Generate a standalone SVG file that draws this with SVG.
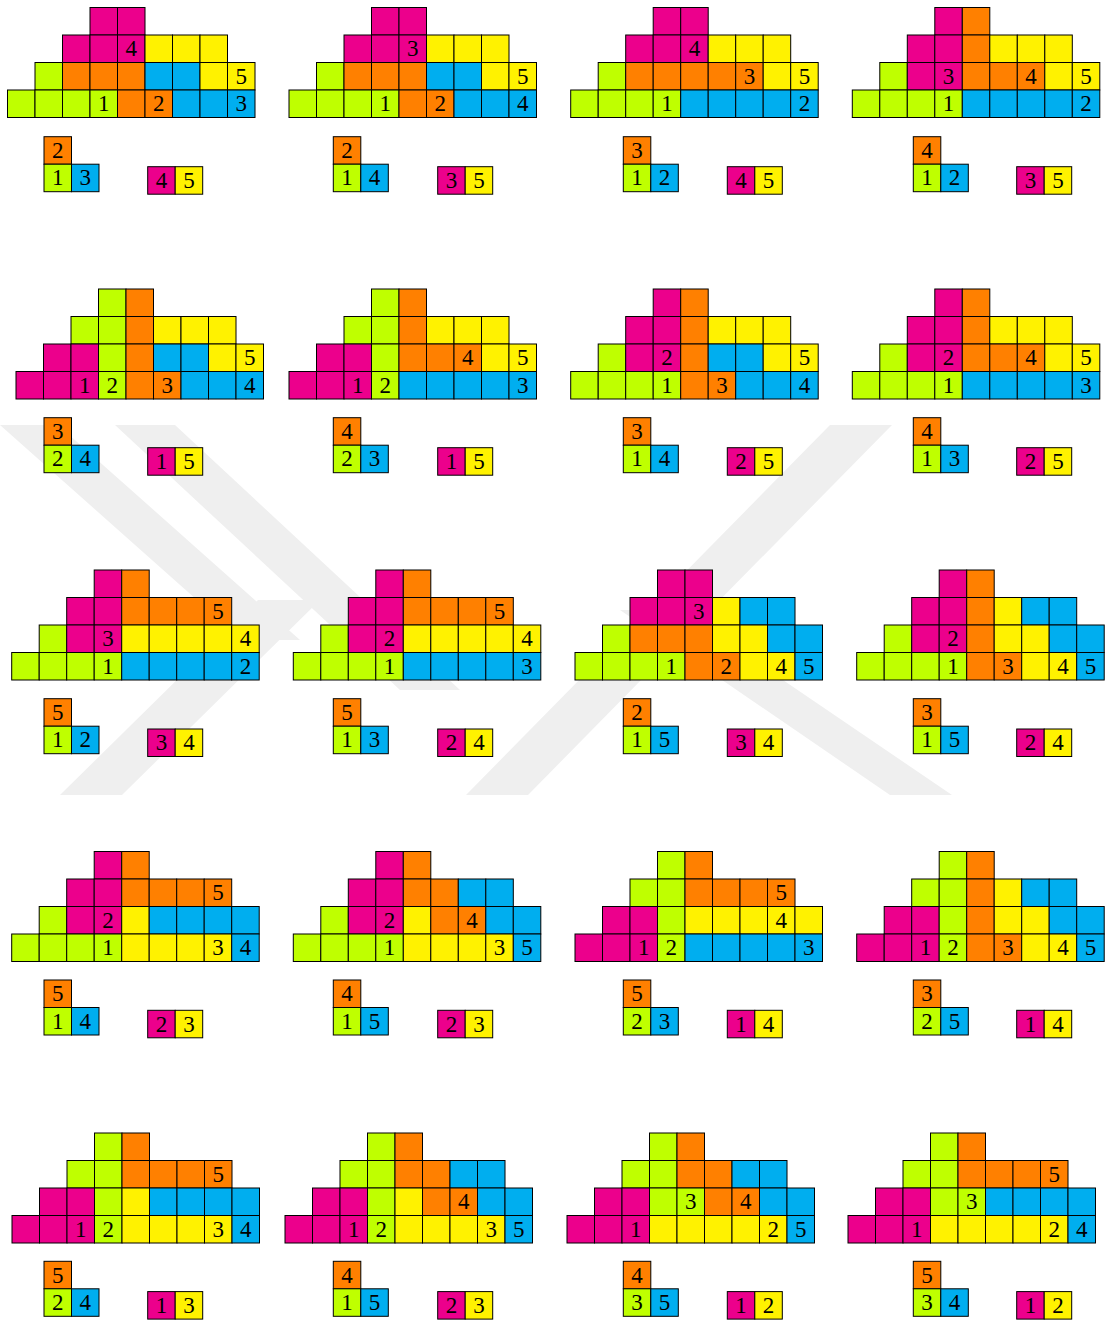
<svg xmlns="http://www.w3.org/2000/svg" width="1106" height="1321" viewBox="0 0 1106 1321">
<style>
rect.c{width:27.5px;height:27.5px;stroke:#000;stroke-width:1}
.m{fill:#EC008C}.y{fill:#FFF200}.g{fill:#BFFF00}.o{fill:#FF8000}.b{fill:#00AEEF}
.wm{fill:#efefef}
text{font-family:"Liberation Serif","DejaVu Serif",serif;font-size:23px;text-anchor:middle;fill:#000}
</style>
<rect width="1106" height="1321" fill="#fff"/>
<g id="watermark">
<polygon class="wm" points="0,425 58,425 300,640 242,640 0,425"/>
<polygon class="wm" points="115,425 175,425 460,690 400,690"/>
<polygon class="wm" points="830,425 892,425 528,795 466,795"/>
<polygon class="wm" points="60,795 122,795 320,600 258,600"/>
<polygon class="wm" points="620,610 680,610 952,795 890,795"/>
</g>
<g id="connectors"/>

<g id="p1" transform="translate(7.5 7.5)">
<rect class="c m" x="82.5" y="0"/><rect class="c m" x="110" y="0"/>
<rect class="c m" x="55" y="27.5"/><rect class="c m" x="82.5" y="27.5"/><rect class="c m" x="110" y="27.5"/><rect class="c y" x="137.5" y="27.5"/><rect class="c y" x="165" y="27.5"/><rect class="c y" x="192.5" y="27.5"/>
<rect class="c g" x="27.5" y="55"/><rect class="c o" x="55" y="55"/><rect class="c o" x="82.5" y="55"/><rect class="c o" x="110" y="55"/><rect class="c b" x="137.5" y="55"/><rect class="c b" x="165" y="55"/><rect class="c y" x="192.5" y="55"/><rect class="c y" x="220" y="55"/>
<rect class="c g" x="0" y="82.5"/><rect class="c g" x="27.5" y="82.5"/><rect class="c g" x="55" y="82.5"/><rect class="c g" x="82.5" y="82.5"/><rect class="c o" x="110" y="82.5"/><rect class="c o" x="137.5" y="82.5"/><rect class="c b" x="165" y="82.5"/><rect class="c b" x="192.5" y="82.5"/><rect class="c b" x="220" y="82.5"/>
<text x="123.75" y="48.75">4</text><text x="233.75" y="76.25">5</text><text x="96.25" y="103.75">1</text><text x="151.25" y="103.75">2</text><text x="233.75" y="103.75">3</text>
</g>
<g id="p1-l" transform="translate(44 136.7)"><rect class="c o" x="0" y="0"/><rect class="c g" x="0" y="27.5"/><rect class="c b" x="27.5" y="27.5"/><text x="13.75" y="21.25">2</text><text x="13.75" y="48.75">1</text><text x="41.25" y="48.75">3</text></g>
<g id="p1-p" transform="translate(147.7 166.7)"><rect class="c m" x="0" y="0"/><rect class="c y" x="27.5" y="0"/><text x="13.75" y="21.25">4</text><text x="41.25" y="21.25">5</text></g>

<g id="p2" transform="translate(289 7.5)">
<rect class="c m" x="82.5" y="0"/><rect class="c m" x="110" y="0"/>
<rect class="c m" x="55" y="27.5"/><rect class="c m" x="82.5" y="27.5"/><rect class="c m" x="110" y="27.5"/><rect class="c y" x="137.5" y="27.5"/><rect class="c y" x="165" y="27.5"/><rect class="c y" x="192.5" y="27.5"/>
<rect class="c g" x="27.5" y="55"/><rect class="c o" x="55" y="55"/><rect class="c o" x="82.5" y="55"/><rect class="c o" x="110" y="55"/><rect class="c b" x="137.5" y="55"/><rect class="c b" x="165" y="55"/><rect class="c y" x="192.5" y="55"/><rect class="c y" x="220" y="55"/>
<rect class="c g" x="0" y="82.5"/><rect class="c g" x="27.5" y="82.5"/><rect class="c g" x="55" y="82.5"/><rect class="c g" x="82.5" y="82.5"/><rect class="c o" x="110" y="82.5"/><rect class="c o" x="137.5" y="82.5"/><rect class="c b" x="165" y="82.5"/><rect class="c b" x="192.5" y="82.5"/><rect class="c b" x="220" y="82.5"/>
<text x="123.75" y="48.75">3</text><text x="233.75" y="76.25">5</text><text x="96.25" y="103.75">1</text><text x="151.25" y="103.75">2</text><text x="233.75" y="103.75">4</text>
</g>
<g id="p2-l" transform="translate(333.3 136.7)"><rect class="c o" x="0" y="0"/><rect class="c g" x="0" y="27.5"/><rect class="c b" x="27.5" y="27.5"/><text x="13.75" y="21.25">2</text><text x="13.75" y="48.75">1</text><text x="41.25" y="48.75">4</text></g>
<g id="p2-p" transform="translate(437.7 166.7)"><rect class="c m" x="0" y="0"/><rect class="c y" x="27.5" y="0"/><text x="13.75" y="21.25">3</text><text x="41.25" y="21.25">5</text></g>

<g id="p3" transform="translate(570.7 7.5)">
<rect class="c m" x="82.5" y="0"/><rect class="c m" x="110" y="0"/>
<rect class="c m" x="55" y="27.5"/><rect class="c m" x="82.5" y="27.5"/><rect class="c m" x="110" y="27.5"/><rect class="c y" x="137.5" y="27.5"/><rect class="c y" x="165" y="27.5"/><rect class="c y" x="192.5" y="27.5"/>
<rect class="c g" x="27.5" y="55"/><rect class="c o" x="55" y="55"/><rect class="c o" x="82.5" y="55"/><rect class="c o" x="110" y="55"/><rect class="c o" x="137.5" y="55"/><rect class="c o" x="165" y="55"/><rect class="c y" x="192.5" y="55"/><rect class="c y" x="220" y="55"/>
<rect class="c g" x="0" y="82.5"/><rect class="c g" x="27.5" y="82.5"/><rect class="c g" x="55" y="82.5"/><rect class="c g" x="82.5" y="82.5"/><rect class="c b" x="110" y="82.5"/><rect class="c b" x="137.5" y="82.5"/><rect class="c b" x="165" y="82.5"/><rect class="c b" x="192.5" y="82.5"/><rect class="c b" x="220" y="82.5"/>
<text x="123.75" y="48.75">4</text><text x="178.75" y="76.25">3</text><text x="233.75" y="76.25">5</text><text x="96.25" y="103.75">1</text><text x="233.75" y="103.75">2</text>
</g>
<g id="p3-l" transform="translate(623.3 136.7)"><rect class="c o" x="0" y="0"/><rect class="c g" x="0" y="27.5"/><rect class="c b" x="27.5" y="27.5"/><text x="13.75" y="21.25">3</text><text x="13.75" y="48.75">1</text><text x="41.25" y="48.75">2</text></g>
<g id="p3-p" transform="translate(727.3 166.7)"><rect class="c m" x="0" y="0"/><rect class="c y" x="27.5" y="0"/><text x="13.75" y="21.25">4</text><text x="41.25" y="21.25">5</text></g>

<g id="p4" transform="translate(852.3 7.5)">
<rect class="c m" x="82.5" y="0"/><rect class="c o" x="110" y="0"/>
<rect class="c m" x="55" y="27.5"/><rect class="c m" x="82.5" y="27.5"/><rect class="c o" x="110" y="27.5"/><rect class="c y" x="137.5" y="27.5"/><rect class="c y" x="165" y="27.5"/><rect class="c y" x="192.5" y="27.5"/>
<rect class="c g" x="27.5" y="55"/><rect class="c m" x="55" y="55"/><rect class="c m" x="82.5" y="55"/><rect class="c o" x="110" y="55"/><rect class="c o" x="137.5" y="55"/><rect class="c o" x="165" y="55"/><rect class="c y" x="192.5" y="55"/><rect class="c y" x="220" y="55"/>
<rect class="c g" x="0" y="82.5"/><rect class="c g" x="27.5" y="82.5"/><rect class="c g" x="55" y="82.5"/><rect class="c g" x="82.5" y="82.5"/><rect class="c b" x="110" y="82.5"/><rect class="c b" x="137.5" y="82.5"/><rect class="c b" x="165" y="82.5"/><rect class="c b" x="192.5" y="82.5"/><rect class="c b" x="220" y="82.5"/>
<text x="96.25" y="76.25">3</text><text x="178.75" y="76.25">4</text><text x="233.75" y="76.25">5</text><text x="96.25" y="103.75">1</text><text x="233.75" y="103.75">2</text>
</g>
<g id="p4-l" transform="translate(913.3 136.7)"><rect class="c o" x="0" y="0"/><rect class="c g" x="0" y="27.5"/><rect class="c b" x="27.5" y="27.5"/><text x="13.75" y="21.25">4</text><text x="13.75" y="48.75">1</text><text x="41.25" y="48.75">2</text></g>
<g id="p4-p" transform="translate(1016.7 166.7)"><rect class="c m" x="0" y="0"/><rect class="c y" x="27.5" y="0"/><text x="13.75" y="21.25">3</text><text x="41.25" y="21.25">5</text></g>

<g id="p5" transform="translate(16 289)">
<rect class="c g" x="82.5" y="0"/><rect class="c o" x="110" y="0"/>
<rect class="c g" x="55" y="27.5"/><rect class="c g" x="82.5" y="27.5"/><rect class="c o" x="110" y="27.5"/><rect class="c y" x="137.5" y="27.5"/><rect class="c y" x="165" y="27.5"/><rect class="c y" x="192.5" y="27.5"/>
<rect class="c m" x="27.5" y="55"/><rect class="c m" x="55" y="55"/><rect class="c g" x="82.5" y="55"/><rect class="c o" x="110" y="55"/><rect class="c b" x="137.5" y="55"/><rect class="c b" x="165" y="55"/><rect class="c y" x="192.5" y="55"/><rect class="c y" x="220" y="55"/>
<rect class="c m" x="0" y="82.5"/><rect class="c m" x="27.5" y="82.5"/><rect class="c m" x="55" y="82.5"/><rect class="c g" x="82.5" y="82.5"/><rect class="c o" x="110" y="82.5"/><rect class="c o" x="137.5" y="82.5"/><rect class="c b" x="165" y="82.5"/><rect class="c b" x="192.5" y="82.5"/><rect class="c b" x="220" y="82.5"/>
<text x="233.75" y="76.25">5</text><text x="68.75" y="103.75">1</text><text x="96.25" y="103.75">2</text><text x="151.25" y="103.75">3</text><text x="233.75" y="103.75">4</text>
</g>
<g id="p5-l" transform="translate(44 417.7)"><rect class="c o" x="0" y="0"/><rect class="c g" x="0" y="27.5"/><rect class="c b" x="27.5" y="27.5"/><text x="13.75" y="21.25">3</text><text x="13.75" y="48.75">2</text><text x="41.25" y="48.75">4</text></g>
<g id="p5-p" transform="translate(147.7 447.7)"><rect class="c m" x="0" y="0"/><rect class="c y" x="27.5" y="0"/><text x="13.75" y="21.25">1</text><text x="41.25" y="21.25">5</text></g>

<g id="p6" transform="translate(289 289)">
<rect class="c g" x="82.5" y="0"/><rect class="c o" x="110" y="0"/>
<rect class="c g" x="55" y="27.5"/><rect class="c g" x="82.5" y="27.5"/><rect class="c o" x="110" y="27.5"/><rect class="c y" x="137.5" y="27.5"/><rect class="c y" x="165" y="27.5"/><rect class="c y" x="192.5" y="27.5"/>
<rect class="c m" x="27.5" y="55"/><rect class="c m" x="55" y="55"/><rect class="c g" x="82.5" y="55"/><rect class="c o" x="110" y="55"/><rect class="c o" x="137.5" y="55"/><rect class="c o" x="165" y="55"/><rect class="c y" x="192.5" y="55"/><rect class="c y" x="220" y="55"/>
<rect class="c m" x="0" y="82.5"/><rect class="c m" x="27.5" y="82.5"/><rect class="c m" x="55" y="82.5"/><rect class="c g" x="82.5" y="82.5"/><rect class="c b" x="110" y="82.5"/><rect class="c b" x="137.5" y="82.5"/><rect class="c b" x="165" y="82.5"/><rect class="c b" x="192.5" y="82.5"/><rect class="c b" x="220" y="82.5"/>
<text x="178.75" y="76.25">4</text><text x="233.75" y="76.25">5</text><text x="68.75" y="103.75">1</text><text x="96.25" y="103.75">2</text><text x="233.75" y="103.75">3</text>
</g>
<g id="p6-l" transform="translate(333.3 417.7)"><rect class="c o" x="0" y="0"/><rect class="c g" x="0" y="27.5"/><rect class="c b" x="27.5" y="27.5"/><text x="13.75" y="21.25">4</text><text x="13.75" y="48.75">2</text><text x="41.25" y="48.75">3</text></g>
<g id="p6-p" transform="translate(437.7 447.7)"><rect class="c m" x="0" y="0"/><rect class="c y" x="27.5" y="0"/><text x="13.75" y="21.25">1</text><text x="41.25" y="21.25">5</text></g>

<g id="p7" transform="translate(570.7 289)">
<rect class="c m" x="82.5" y="0"/><rect class="c o" x="110" y="0"/>
<rect class="c m" x="55" y="27.5"/><rect class="c m" x="82.5" y="27.5"/><rect class="c o" x="110" y="27.5"/><rect class="c y" x="137.5" y="27.5"/><rect class="c y" x="165" y="27.5"/><rect class="c y" x="192.5" y="27.5"/>
<rect class="c g" x="27.5" y="55"/><rect class="c m" x="55" y="55"/><rect class="c m" x="82.5" y="55"/><rect class="c o" x="110" y="55"/><rect class="c b" x="137.5" y="55"/><rect class="c b" x="165" y="55"/><rect class="c y" x="192.5" y="55"/><rect class="c y" x="220" y="55"/>
<rect class="c g" x="0" y="82.5"/><rect class="c g" x="27.5" y="82.5"/><rect class="c g" x="55" y="82.5"/><rect class="c g" x="82.5" y="82.5"/><rect class="c o" x="110" y="82.5"/><rect class="c o" x="137.5" y="82.5"/><rect class="c b" x="165" y="82.5"/><rect class="c b" x="192.5" y="82.5"/><rect class="c b" x="220" y="82.5"/>
<text x="96.25" y="76.25">2</text><text x="233.75" y="76.25">5</text><text x="96.25" y="103.75">1</text><text x="151.25" y="103.75">3</text><text x="233.75" y="103.75">4</text>
</g>
<g id="p7-l" transform="translate(623.3 417.7)"><rect class="c o" x="0" y="0"/><rect class="c g" x="0" y="27.5"/><rect class="c b" x="27.5" y="27.5"/><text x="13.75" y="21.25">3</text><text x="13.75" y="48.75">1</text><text x="41.25" y="48.75">4</text></g>
<g id="p7-p" transform="translate(727.3 447.7)"><rect class="c m" x="0" y="0"/><rect class="c y" x="27.5" y="0"/><text x="13.75" y="21.25">2</text><text x="41.25" y="21.25">5</text></g>

<g id="p8" transform="translate(852.3 289)">
<rect class="c m" x="82.5" y="0"/><rect class="c o" x="110" y="0"/>
<rect class="c m" x="55" y="27.5"/><rect class="c m" x="82.5" y="27.5"/><rect class="c o" x="110" y="27.5"/><rect class="c y" x="137.5" y="27.5"/><rect class="c y" x="165" y="27.5"/><rect class="c y" x="192.5" y="27.5"/>
<rect class="c g" x="27.5" y="55"/><rect class="c m" x="55" y="55"/><rect class="c m" x="82.5" y="55"/><rect class="c o" x="110" y="55"/><rect class="c o" x="137.5" y="55"/><rect class="c o" x="165" y="55"/><rect class="c y" x="192.5" y="55"/><rect class="c y" x="220" y="55"/>
<rect class="c g" x="0" y="82.5"/><rect class="c g" x="27.5" y="82.5"/><rect class="c g" x="55" y="82.5"/><rect class="c g" x="82.5" y="82.5"/><rect class="c b" x="110" y="82.5"/><rect class="c b" x="137.5" y="82.5"/><rect class="c b" x="165" y="82.5"/><rect class="c b" x="192.5" y="82.5"/><rect class="c b" x="220" y="82.5"/>
<text x="96.25" y="76.25">2</text><text x="178.75" y="76.25">4</text><text x="233.75" y="76.25">5</text><text x="96.25" y="103.75">1</text><text x="233.75" y="103.75">3</text>
</g>
<g id="p8-l" transform="translate(913.3 417.7)"><rect class="c o" x="0" y="0"/><rect class="c g" x="0" y="27.5"/><rect class="c b" x="27.5" y="27.5"/><text x="13.75" y="21.25">4</text><text x="13.75" y="48.75">1</text><text x="41.25" y="48.75">3</text></g>
<g id="p8-p" transform="translate(1016.7 447.7)"><rect class="c m" x="0" y="0"/><rect class="c y" x="27.5" y="0"/><text x="13.75" y="21.25">2</text><text x="41.25" y="21.25">5</text></g>

<g id="p9" transform="translate(11.7 570)">
<rect class="c m" x="82.5" y="0"/><rect class="c o" x="110" y="0"/>
<rect class="c m" x="55" y="27.5"/><rect class="c m" x="82.5" y="27.5"/><rect class="c o" x="110" y="27.5"/><rect class="c o" x="137.5" y="27.5"/><rect class="c o" x="165" y="27.5"/><rect class="c o" x="192.5" y="27.5"/>
<rect class="c g" x="27.5" y="55"/><rect class="c m" x="55" y="55"/><rect class="c m" x="82.5" y="55"/><rect class="c y" x="110" y="55"/><rect class="c y" x="137.5" y="55"/><rect class="c y" x="165" y="55"/><rect class="c y" x="192.5" y="55"/><rect class="c y" x="220" y="55"/>
<rect class="c g" x="0" y="82.5"/><rect class="c g" x="27.5" y="82.5"/><rect class="c g" x="55" y="82.5"/><rect class="c g" x="82.5" y="82.5"/><rect class="c b" x="110" y="82.5"/><rect class="c b" x="137.5" y="82.5"/><rect class="c b" x="165" y="82.5"/><rect class="c b" x="192.5" y="82.5"/><rect class="c b" x="220" y="82.5"/>
<text x="206.25" y="48.75">5</text><text x="96.25" y="76.25">3</text><text x="233.75" y="76.25">4</text><text x="96.25" y="103.75">1</text><text x="233.75" y="103.75">2</text>
</g>
<g id="p9-l" transform="translate(44 698.7)"><rect class="c o" x="0" y="0"/><rect class="c g" x="0" y="27.5"/><rect class="c b" x="27.5" y="27.5"/><text x="13.75" y="21.25">5</text><text x="13.75" y="48.75">1</text><text x="41.25" y="48.75">2</text></g>
<g id="p9-p" transform="translate(147.7 729)"><rect class="c m" x="0" y="0"/><rect class="c y" x="27.5" y="0"/><text x="13.75" y="21.25">3</text><text x="41.25" y="21.25">4</text></g>

<g id="p10" transform="translate(293.3 570)">
<rect class="c m" x="82.5" y="0"/><rect class="c o" x="110" y="0"/>
<rect class="c m" x="55" y="27.5"/><rect class="c m" x="82.5" y="27.5"/><rect class="c o" x="110" y="27.5"/><rect class="c o" x="137.5" y="27.5"/><rect class="c o" x="165" y="27.5"/><rect class="c o" x="192.5" y="27.5"/>
<rect class="c g" x="27.5" y="55"/><rect class="c m" x="55" y="55"/><rect class="c m" x="82.5" y="55"/><rect class="c y" x="110" y="55"/><rect class="c y" x="137.5" y="55"/><rect class="c y" x="165" y="55"/><rect class="c y" x="192.5" y="55"/><rect class="c y" x="220" y="55"/>
<rect class="c g" x="0" y="82.5"/><rect class="c g" x="27.5" y="82.5"/><rect class="c g" x="55" y="82.5"/><rect class="c g" x="82.5" y="82.5"/><rect class="c b" x="110" y="82.5"/><rect class="c b" x="137.5" y="82.5"/><rect class="c b" x="165" y="82.5"/><rect class="c b" x="192.5" y="82.5"/><rect class="c b" x="220" y="82.5"/>
<text x="206.25" y="48.75">5</text><text x="96.25" y="76.25">2</text><text x="233.75" y="76.25">4</text><text x="96.25" y="103.75">1</text><text x="233.75" y="103.75">3</text>
</g>
<g id="p10-l" transform="translate(333.3 698.7)"><rect class="c o" x="0" y="0"/><rect class="c g" x="0" y="27.5"/><rect class="c b" x="27.5" y="27.5"/><text x="13.75" y="21.25">5</text><text x="13.75" y="48.75">1</text><text x="41.25" y="48.75">3</text></g>
<g id="p10-p" transform="translate(437.7 729)"><rect class="c m" x="0" y="0"/><rect class="c y" x="27.5" y="0"/><text x="13.75" y="21.25">2</text><text x="41.25" y="21.25">4</text></g>

<g id="p11" transform="translate(575 570)">
<rect class="c m" x="82.5" y="0"/><rect class="c m" x="110" y="0"/>
<rect class="c m" x="55" y="27.5"/><rect class="c m" x="82.5" y="27.5"/><rect class="c m" x="110" y="27.5"/><rect class="c y" x="137.5" y="27.5"/><rect class="c b" x="165" y="27.5"/><rect class="c b" x="192.5" y="27.5"/>
<rect class="c g" x="27.5" y="55"/><rect class="c o" x="55" y="55"/><rect class="c o" x="82.5" y="55"/><rect class="c o" x="110" y="55"/><rect class="c y" x="137.5" y="55"/><rect class="c y" x="165" y="55"/><rect class="c b" x="192.5" y="55"/><rect class="c b" x="220" y="55"/>
<rect class="c g" x="0" y="82.5"/><rect class="c g" x="27.5" y="82.5"/><rect class="c g" x="55" y="82.5"/><rect class="c g" x="82.5" y="82.5"/><rect class="c o" x="110" y="82.5"/><rect class="c o" x="137.5" y="82.5"/><rect class="c y" x="165" y="82.5"/><rect class="c y" x="192.5" y="82.5"/><rect class="c b" x="220" y="82.5"/>
<text x="123.75" y="48.75">3</text><text x="96.25" y="103.75">1</text><text x="151.25" y="103.75">2</text><text x="206.25" y="103.75">4</text><text x="233.75" y="103.75">5</text>
</g>
<g id="p11-l" transform="translate(623.3 698.7)"><rect class="c o" x="0" y="0"/><rect class="c g" x="0" y="27.5"/><rect class="c b" x="27.5" y="27.5"/><text x="13.75" y="21.25">2</text><text x="13.75" y="48.75">1</text><text x="41.25" y="48.75">5</text></g>
<g id="p11-p" transform="translate(727.3 729)"><rect class="c m" x="0" y="0"/><rect class="c y" x="27.5" y="0"/><text x="13.75" y="21.25">3</text><text x="41.25" y="21.25">4</text></g>

<g id="p12" transform="translate(856.7 570)">
<rect class="c m" x="82.5" y="0"/><rect class="c o" x="110" y="0"/>
<rect class="c m" x="55" y="27.5"/><rect class="c m" x="82.5" y="27.5"/><rect class="c o" x="110" y="27.5"/><rect class="c y" x="137.5" y="27.5"/><rect class="c b" x="165" y="27.5"/><rect class="c b" x="192.5" y="27.5"/>
<rect class="c g" x="27.5" y="55"/><rect class="c m" x="55" y="55"/><rect class="c m" x="82.5" y="55"/><rect class="c o" x="110" y="55"/><rect class="c y" x="137.5" y="55"/><rect class="c y" x="165" y="55"/><rect class="c b" x="192.5" y="55"/><rect class="c b" x="220" y="55"/>
<rect class="c g" x="0" y="82.5"/><rect class="c g" x="27.5" y="82.5"/><rect class="c g" x="55" y="82.5"/><rect class="c g" x="82.5" y="82.5"/><rect class="c o" x="110" y="82.5"/><rect class="c o" x="137.5" y="82.5"/><rect class="c y" x="165" y="82.5"/><rect class="c y" x="192.5" y="82.5"/><rect class="c b" x="220" y="82.5"/>
<text x="96.25" y="76.25">2</text><text x="96.25" y="103.75">1</text><text x="151.25" y="103.75">3</text><text x="206.25" y="103.75">4</text><text x="233.75" y="103.75">5</text>
</g>
<g id="p12-l" transform="translate(913.3 698.7)"><rect class="c o" x="0" y="0"/><rect class="c g" x="0" y="27.5"/><rect class="c b" x="27.5" y="27.5"/><text x="13.75" y="21.25">3</text><text x="13.75" y="48.75">1</text><text x="41.25" y="48.75">5</text></g>
<g id="p12-p" transform="translate(1016.7 729)"><rect class="c m" x="0" y="0"/><rect class="c y" x="27.5" y="0"/><text x="13.75" y="21.25">2</text><text x="41.25" y="21.25">4</text></g>

<g id="p13" transform="translate(11.7 851.5)">
<rect class="c m" x="82.5" y="0"/><rect class="c o" x="110" y="0"/>
<rect class="c m" x="55" y="27.5"/><rect class="c m" x="82.5" y="27.5"/><rect class="c o" x="110" y="27.5"/><rect class="c o" x="137.5" y="27.5"/><rect class="c o" x="165" y="27.5"/><rect class="c o" x="192.5" y="27.5"/>
<rect class="c g" x="27.5" y="55"/><rect class="c m" x="55" y="55"/><rect class="c m" x="82.5" y="55"/><rect class="c y" x="110" y="55"/><rect class="c b" x="137.5" y="55"/><rect class="c b" x="165" y="55"/><rect class="c b" x="192.5" y="55"/><rect class="c b" x="220" y="55"/>
<rect class="c g" x="0" y="82.5"/><rect class="c g" x="27.5" y="82.5"/><rect class="c g" x="55" y="82.5"/><rect class="c g" x="82.5" y="82.5"/><rect class="c y" x="110" y="82.5"/><rect class="c y" x="137.5" y="82.5"/><rect class="c y" x="165" y="82.5"/><rect class="c y" x="192.5" y="82.5"/><rect class="c b" x="220" y="82.5"/>
<text x="206.25" y="48.75">5</text><text x="96.25" y="76.25">2</text><text x="96.25" y="103.75">1</text><text x="206.25" y="103.75">3</text><text x="233.75" y="103.75">4</text>
</g>
<g id="p13-l" transform="translate(44 980)"><rect class="c o" x="0" y="0"/><rect class="c g" x="0" y="27.5"/><rect class="c b" x="27.5" y="27.5"/><text x="13.75" y="21.25">5</text><text x="13.75" y="48.75">1</text><text x="41.25" y="48.75">4</text></g>
<g id="p13-p" transform="translate(147.7 1010.3)"><rect class="c m" x="0" y="0"/><rect class="c y" x="27.5" y="0"/><text x="13.75" y="21.25">2</text><text x="41.25" y="21.25">3</text></g>

<g id="p14" transform="translate(293.3 851.5)">
<rect class="c m" x="82.5" y="0"/><rect class="c o" x="110" y="0"/>
<rect class="c m" x="55" y="27.5"/><rect class="c m" x="82.5" y="27.5"/><rect class="c o" x="110" y="27.5"/><rect class="c o" x="137.5" y="27.5"/><rect class="c b" x="165" y="27.5"/><rect class="c b" x="192.5" y="27.5"/>
<rect class="c g" x="27.5" y="55"/><rect class="c m" x="55" y="55"/><rect class="c m" x="82.5" y="55"/><rect class="c y" x="110" y="55"/><rect class="c o" x="137.5" y="55"/><rect class="c o" x="165" y="55"/><rect class="c b" x="192.5" y="55"/><rect class="c b" x="220" y="55"/>
<rect class="c g" x="0" y="82.5"/><rect class="c g" x="27.5" y="82.5"/><rect class="c g" x="55" y="82.5"/><rect class="c g" x="82.5" y="82.5"/><rect class="c y" x="110" y="82.5"/><rect class="c y" x="137.5" y="82.5"/><rect class="c y" x="165" y="82.5"/><rect class="c y" x="192.5" y="82.5"/><rect class="c b" x="220" y="82.5"/>
<text x="96.25" y="76.25">2</text><text x="178.75" y="76.25">4</text><text x="96.25" y="103.75">1</text><text x="206.25" y="103.75">3</text><text x="233.75" y="103.75">5</text>
</g>
<g id="p14-l" transform="translate(333.3 980)"><rect class="c o" x="0" y="0"/><rect class="c g" x="0" y="27.5"/><rect class="c b" x="27.5" y="27.5"/><text x="13.75" y="21.25">4</text><text x="13.75" y="48.75">1</text><text x="41.25" y="48.75">5</text></g>
<g id="p14-p" transform="translate(437.7 1010.3)"><rect class="c m" x="0" y="0"/><rect class="c y" x="27.5" y="0"/><text x="13.75" y="21.25">2</text><text x="41.25" y="21.25">3</text></g>

<g id="p15" transform="translate(575 851.5)">
<rect class="c g" x="82.5" y="0"/><rect class="c o" x="110" y="0"/>
<rect class="c g" x="55" y="27.5"/><rect class="c g" x="82.5" y="27.5"/><rect class="c o" x="110" y="27.5"/><rect class="c o" x="137.5" y="27.5"/><rect class="c o" x="165" y="27.5"/><rect class="c o" x="192.5" y="27.5"/>
<rect class="c m" x="27.5" y="55"/><rect class="c m" x="55" y="55"/><rect class="c g" x="82.5" y="55"/><rect class="c y" x="110" y="55"/><rect class="c y" x="137.5" y="55"/><rect class="c y" x="165" y="55"/><rect class="c y" x="192.5" y="55"/><rect class="c y" x="220" y="55"/>
<rect class="c m" x="0" y="82.5"/><rect class="c m" x="27.5" y="82.5"/><rect class="c m" x="55" y="82.5"/><rect class="c g" x="82.5" y="82.5"/><rect class="c b" x="110" y="82.5"/><rect class="c b" x="137.5" y="82.5"/><rect class="c b" x="165" y="82.5"/><rect class="c b" x="192.5" y="82.5"/><rect class="c b" x="220" y="82.5"/>
<text x="206.25" y="48.75">5</text><text x="206.25" y="76.25">4</text><text x="68.75" y="103.75">1</text><text x="96.25" y="103.75">2</text><text x="233.75" y="103.75">3</text>
</g>
<g id="p15-l" transform="translate(623.3 980)"><rect class="c o" x="0" y="0"/><rect class="c g" x="0" y="27.5"/><rect class="c b" x="27.5" y="27.5"/><text x="13.75" y="21.25">5</text><text x="13.75" y="48.75">2</text><text x="41.25" y="48.75">3</text></g>
<g id="p15-p" transform="translate(727.3 1010.3)"><rect class="c m" x="0" y="0"/><rect class="c y" x="27.5" y="0"/><text x="13.75" y="21.25">1</text><text x="41.25" y="21.25">4</text></g>

<g id="p16" transform="translate(856.7 851.5)">
<rect class="c g" x="82.5" y="0"/><rect class="c o" x="110" y="0"/>
<rect class="c g" x="55" y="27.5"/><rect class="c g" x="82.5" y="27.5"/><rect class="c o" x="110" y="27.5"/><rect class="c y" x="137.5" y="27.5"/><rect class="c b" x="165" y="27.5"/><rect class="c b" x="192.5" y="27.5"/>
<rect class="c m" x="27.5" y="55"/><rect class="c m" x="55" y="55"/><rect class="c g" x="82.5" y="55"/><rect class="c o" x="110" y="55"/><rect class="c y" x="137.5" y="55"/><rect class="c y" x="165" y="55"/><rect class="c b" x="192.5" y="55"/><rect class="c b" x="220" y="55"/>
<rect class="c m" x="0" y="82.5"/><rect class="c m" x="27.5" y="82.5"/><rect class="c m" x="55" y="82.5"/><rect class="c g" x="82.5" y="82.5"/><rect class="c o" x="110" y="82.5"/><rect class="c o" x="137.5" y="82.5"/><rect class="c y" x="165" y="82.5"/><rect class="c y" x="192.5" y="82.5"/><rect class="c b" x="220" y="82.5"/>
<text x="68.75" y="103.75">1</text><text x="96.25" y="103.75">2</text><text x="151.25" y="103.75">3</text><text x="206.25" y="103.75">4</text><text x="233.75" y="103.75">5</text>
</g>
<g id="p16-l" transform="translate(913.3 980)"><rect class="c o" x="0" y="0"/><rect class="c g" x="0" y="27.5"/><rect class="c b" x="27.5" y="27.5"/><text x="13.75" y="21.25">3</text><text x="13.75" y="48.75">2</text><text x="41.25" y="48.75">5</text></g>
<g id="p16-p" transform="translate(1016.7 1010.3)"><rect class="c m" x="0" y="0"/><rect class="c y" x="27.5" y="0"/><text x="13.75" y="21.25">1</text><text x="41.25" y="21.25">4</text></g>

<g id="p17" transform="translate(12 1133)">
<rect class="c g" x="82.5" y="0"/><rect class="c o" x="110" y="0"/>
<rect class="c g" x="55" y="27.5"/><rect class="c g" x="82.5" y="27.5"/><rect class="c o" x="110" y="27.5"/><rect class="c o" x="137.5" y="27.5"/><rect class="c o" x="165" y="27.5"/><rect class="c o" x="192.5" y="27.5"/>
<rect class="c m" x="27.5" y="55"/><rect class="c m" x="55" y="55"/><rect class="c g" x="82.5" y="55"/><rect class="c y" x="110" y="55"/><rect class="c b" x="137.5" y="55"/><rect class="c b" x="165" y="55"/><rect class="c b" x="192.5" y="55"/><rect class="c b" x="220" y="55"/>
<rect class="c m" x="0" y="82.5"/><rect class="c m" x="27.5" y="82.5"/><rect class="c m" x="55" y="82.5"/><rect class="c g" x="82.5" y="82.5"/><rect class="c y" x="110" y="82.5"/><rect class="c y" x="137.5" y="82.5"/><rect class="c y" x="165" y="82.5"/><rect class="c y" x="192.5" y="82.5"/><rect class="c b" x="220" y="82.5"/>
<text x="206.25" y="48.75">5</text><text x="68.75" y="103.75">1</text><text x="96.25" y="103.75">2</text><text x="206.25" y="103.75">3</text><text x="233.75" y="103.75">4</text>
</g>
<g id="p17-l" transform="translate(44 1261.3)"><rect class="c o" x="0" y="0"/><rect class="c g" x="0" y="27.5"/><rect class="c b" x="27.5" y="27.5"/><text x="13.75" y="21.25">5</text><text x="13.75" y="48.75">2</text><text x="41.25" y="48.75">4</text></g>
<g id="p17-p" transform="translate(147.7 1291.6)"><rect class="c m" x="0" y="0"/><rect class="c y" x="27.5" y="0"/><text x="13.75" y="21.25">1</text><text x="41.25" y="21.25">3</text></g>

<g id="p18" transform="translate(285 1133)">
<rect class="c g" x="82.5" y="0"/><rect class="c o" x="110" y="0"/>
<rect class="c g" x="55" y="27.5"/><rect class="c g" x="82.5" y="27.5"/><rect class="c o" x="110" y="27.5"/><rect class="c o" x="137.5" y="27.5"/><rect class="c b" x="165" y="27.5"/><rect class="c b" x="192.5" y="27.5"/>
<rect class="c m" x="27.5" y="55"/><rect class="c m" x="55" y="55"/><rect class="c g" x="82.5" y="55"/><rect class="c y" x="110" y="55"/><rect class="c o" x="137.5" y="55"/><rect class="c o" x="165" y="55"/><rect class="c b" x="192.5" y="55"/><rect class="c b" x="220" y="55"/>
<rect class="c m" x="0" y="82.5"/><rect class="c m" x="27.5" y="82.5"/><rect class="c m" x="55" y="82.5"/><rect class="c g" x="82.5" y="82.5"/><rect class="c y" x="110" y="82.5"/><rect class="c y" x="137.5" y="82.5"/><rect class="c y" x="165" y="82.5"/><rect class="c y" x="192.5" y="82.5"/><rect class="c b" x="220" y="82.5"/>
<text x="178.75" y="76.25">4</text><text x="68.75" y="103.75">1</text><text x="96.25" y="103.75">2</text><text x="206.25" y="103.75">3</text><text x="233.75" y="103.75">5</text>
</g>
<g id="p18-l" transform="translate(333.3 1261.3)"><rect class="c o" x="0" y="0"/><rect class="c g" x="0" y="27.5"/><rect class="c b" x="27.5" y="27.5"/><text x="13.75" y="21.25">4</text><text x="13.75" y="48.75">1</text><text x="41.25" y="48.75">5</text></g>
<g id="p18-p" transform="translate(437.7 1291.6)"><rect class="c m" x="0" y="0"/><rect class="c y" x="27.5" y="0"/><text x="13.75" y="21.25">2</text><text x="41.25" y="21.25">3</text></g>

<g id="p19" transform="translate(567 1133)">
<rect class="c g" x="82.5" y="0"/><rect class="c o" x="110" y="0"/>
<rect class="c g" x="55" y="27.5"/><rect class="c g" x="82.5" y="27.5"/><rect class="c o" x="110" y="27.5"/><rect class="c o" x="137.5" y="27.5"/><rect class="c b" x="165" y="27.5"/><rect class="c b" x="192.5" y="27.5"/>
<rect class="c m" x="27.5" y="55"/><rect class="c m" x="55" y="55"/><rect class="c g" x="82.5" y="55"/><rect class="c g" x="110" y="55"/><rect class="c o" x="137.5" y="55"/><rect class="c o" x="165" y="55"/><rect class="c b" x="192.5" y="55"/><rect class="c b" x="220" y="55"/>
<rect class="c m" x="0" y="82.5"/><rect class="c m" x="27.5" y="82.5"/><rect class="c m" x="55" y="82.5"/><rect class="c y" x="82.5" y="82.5"/><rect class="c y" x="110" y="82.5"/><rect class="c y" x="137.5" y="82.5"/><rect class="c y" x="165" y="82.5"/><rect class="c y" x="192.5" y="82.5"/><rect class="c b" x="220" y="82.5"/>
<text x="123.75" y="76.25">3</text><text x="178.75" y="76.25">4</text><text x="68.75" y="103.75">1</text><text x="206.25" y="103.75">2</text><text x="233.75" y="103.75">5</text>
</g>
<g id="p19-l" transform="translate(623.3 1261.3)"><rect class="c o" x="0" y="0"/><rect class="c g" x="0" y="27.5"/><rect class="c b" x="27.5" y="27.5"/><text x="13.75" y="21.25">4</text><text x="13.75" y="48.75">3</text><text x="41.25" y="48.75">5</text></g>
<g id="p19-p" transform="translate(727.3 1291.6)"><rect class="c m" x="0" y="0"/><rect class="c y" x="27.5" y="0"/><text x="13.75" y="21.25">1</text><text x="41.25" y="21.25">2</text></g>

<g id="p20" transform="translate(848 1133)">
<rect class="c g" x="82.5" y="0"/><rect class="c o" x="110" y="0"/>
<rect class="c g" x="55" y="27.5"/><rect class="c g" x="82.5" y="27.5"/><rect class="c o" x="110" y="27.5"/><rect class="c o" x="137.5" y="27.5"/><rect class="c o" x="165" y="27.5"/><rect class="c o" x="192.5" y="27.5"/>
<rect class="c m" x="27.5" y="55"/><rect class="c m" x="55" y="55"/><rect class="c g" x="82.5" y="55"/><rect class="c g" x="110" y="55"/><rect class="c b" x="137.5" y="55"/><rect class="c b" x="165" y="55"/><rect class="c b" x="192.5" y="55"/><rect class="c b" x="220" y="55"/>
<rect class="c m" x="0" y="82.5"/><rect class="c m" x="27.5" y="82.5"/><rect class="c m" x="55" y="82.5"/><rect class="c y" x="82.5" y="82.5"/><rect class="c y" x="110" y="82.5"/><rect class="c y" x="137.5" y="82.5"/><rect class="c y" x="165" y="82.5"/><rect class="c y" x="192.5" y="82.5"/><rect class="c b" x="220" y="82.5"/>
<text x="206.25" y="48.75">5</text><text x="123.75" y="76.25">3</text><text x="68.75" y="103.75">1</text><text x="206.25" y="103.75">2</text><text x="233.75" y="103.75">4</text>
</g>
<g id="p20-l" transform="translate(913.3 1261.3)"><rect class="c o" x="0" y="0"/><rect class="c g" x="0" y="27.5"/><rect class="c b" x="27.5" y="27.5"/><text x="13.75" y="21.25">5</text><text x="13.75" y="48.75">3</text><text x="41.25" y="48.75">4</text></g>
<g id="p20-p" transform="translate(1016.7 1291.6)"><rect class="c m" x="0" y="0"/><rect class="c y" x="27.5" y="0"/><text x="13.75" y="21.25">1</text><text x="41.25" y="21.25">2</text></g>
</svg>
